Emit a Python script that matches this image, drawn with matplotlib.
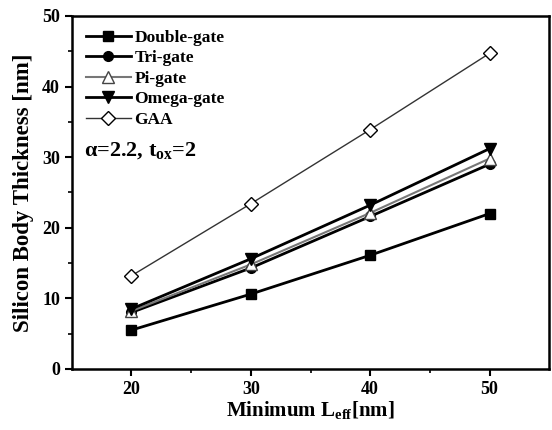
import matplotlib
matplotlib.use("Agg")
import matplotlib.pyplot as plt

plt.rcParams["font.family"] = ["Liberation Serif", "DejaVu Serif"]
plt.rcParams["font.weight"] = "bold"
plt.rcParams["mathtext.fontset"] = "custom"
plt.rcParams["mathtext.rm"] = "Liberation Serif:bold"
plt.rcParams["mathtext.bf"] = "Liberation Serif:bold"
plt.rcParams["mathtext.it"] = "Liberation Serif:bold:italic"

l_eff = [20, 30, 40, 50]
double_gate = [5.5, 10.6, 16.1, 22.0]
tri_gate = [8.0, 14.3, 21.6, 29.0]
pi_gate = [8.2, 14.8, 22.1, 29.8]
omega_gate = [8.5, 15.6, 23.2, 31.2]
gaa = [13.2, 23.4, 33.9, 44.7]

fig = plt.figure(figsize=(5.52, 4.3), dpi=100)
ax = fig.add_axes([0.130, 0.142, 0.865, 0.821])

ax.plot(l_eff, double_gate, "-s", color="black", lw=2, ms=7, label="Double-gate")
ax.plot(l_eff, tri_gate, "-o", color="black", lw=2, ms=7, label="Tri-gate")
ax.plot(l_eff, pi_gate, "-^", color="#777777", lw=1.5, ms=8, mfc="white",
        mec="#444444", label="Pi-gate")
ax.plot(l_eff, omega_gate, "-v", color="black", lw=2, ms=8, label="Omega-gate")
ax.plot(l_eff, gaa, "-D", color="#333333", lw=1, ms=7, mfc="white",
        mec="black", label="GAA")

ax.set_xlim(15, 55)
ax.set_ylim(0, 50)
ax.set_xticks([20, 30, 40, 50])
ax.set_yticks([0, 10, 20, 30, 40, 50])
ax.set_xticks([25, 35, 45], minor=True)
ax.set_yticks([5, 15, 25, 35, 45], minor=True)
ax.tick_params(direction="out", width=1.5, length=5, labelsize=13)
ax.tick_params(which="minor", direction="out", width=1.2, length=3)
for s in ax.spines.values():
    s.set_linewidth(1.8)

ax.set_xlabel(r"Minimum L$_{\mathrm{eff}}$[nm]", fontsize=15, fontweight="bold", labelpad=1)
ax.set_ylabel("Silicon Body Thickness [nm]", fontsize=16.5, fontweight="bold", labelpad=6)

leg = ax.legend(loc="upper left", frameon=False, fontsize=12.5, handlelength=2.6,
                handletextpad=0.2, labelspacing=0.25, borderaxespad=0.4)
ax.text(0.025, 0.605, r"α=2.2, t$_{\mathrm{ox}}$=2", transform=ax.transAxes,
        fontsize=16, fontweight="bold")

fig.savefig("out.png", dpi=100)
